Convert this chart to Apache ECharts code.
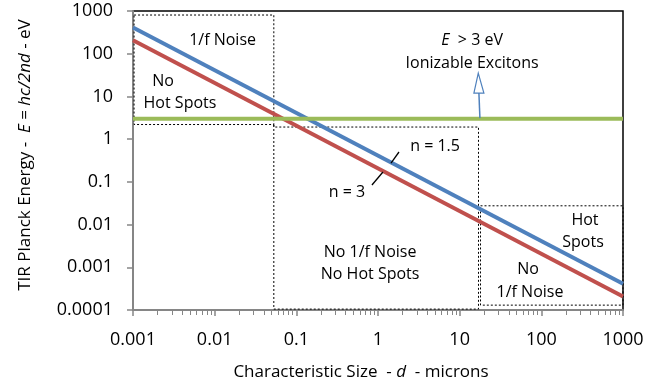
<!DOCTYPE html>
<html>
<head>
<meta charset="utf-8">
<script src="https://cdn.jsdelivr.net/npm/echarts@6/dist/echarts.min.js"></script>
<style>html,body{margin:0;background:#fff}#main{width:662px;height:387px}</style>
</head>
<body>
<div id="main"></div>
<script>
var sizes = [0.001, 1000];
var energyN15 = [413, 0.000413];
var energyN3 = [207, 0.000207];
var ionizeLevel = [3, 3];
var xRange = [0.001, 1000];
var yRange = [0.0001, 1000];

// dotted region boxes (corners in axis units)
var boxNoise = [[0.00103, 805], [0.053, 805], [0.053, 2.2], [0.00103, 2.2], [0.00103, 805]];
var boxMiddle = [[0.053, 2.2], [0.053, 1.92], [17, 1.92], [17, 0.000105], [0.053, 0.000105], [0.053, 2.2]];
var boxHot = [[18, 0.0275], [1000, 0.0275], [1000, 0.00013], [18, 0.00013], [18, 0.0275]];

var notes = [
    ['1/f Noise', 0.0125, 210],
    ['No', 0.00233, 23],
    ['Hot Spots', 0.00376, 7.0],
    ['{i|E}  > 3 eV', 14.2, 209],
    ['Ionizable Excitons', 14.2, 60.6],
    ['n = 1.5', 5.0, 0.69],
    ['n = 3', 0.417, 0.0578],
    ['No 1/f Noise', 0.8, 0.00228],
    ['No Hot Spots', 0.8, 0.000695],
    ['Hot', 342, 0.0128],
    ['Spots', 324, 0.0039],
    ['No', 68.7, 0.00091],
    ['1/f Noise', 72.6, 0.000264]
];
var leaders = [
    [[1.807, 0.5], [1.443, 0.276]],
    [[0.843, 0.0843], [1.15, 0.17]]
];
var arrowBase = [17.7, 3.1];
var arrowNeck = [17.2, 12];
var arrowTip = [16.9, 35];

var FONT = '"Open Sans", sans-serif';
var myChart = echarts.init(document.getElementById('main'));

function pairs(xs, ys) {
    return xs.map(function (x, i) { return [x, ys[i]]; });
}
function boxSeries(pts) {
    return {
        type: 'line', data: pts, showSymbol: false, silent: true, z: 1,
        lineStyle: {color: '#000', width: 1, type: [2, 2]}
    };
}
function tickText(v) {
    return String(+(+v).toPrecision(1));
}

myChart.setOption({
    animation: false,
    grid: {left: 133, right: 39, top: 11, bottom: 77, show: true, borderColor: '#000', borderWidth: 1.5},
    xAxis: {
        type: 'log', logBase: 10, min: xRange[0], max: xRange[1], splitNumber: 6,
        axisLine: {lineStyle: {color: '#868686', width: 2}},
        axisTick: {length: 6, lineStyle: {color: '#868686', width: 1.5}},
        minorTick: {show: true, splitNumber: 9, length: 5, lineStyle: {color: '#868686', width: 1}},
        splitLine: {show: false},
        axisLabel: {margin: 21, color: '#000', fontFamily: FONT, fontSize: 18, formatter: tickText}
    },
    yAxis: {
        type: 'log', logBase: 10, min: yRange[0], max: yRange[1], splitNumber: 7,
        axisLine: {lineStyle: {color: '#868686', width: 2}},
        axisTick: {length: 6, lineStyle: {color: '#868686', width: 1.5}},
        splitLine: {show: false},
        axisLabel: {margin: 20, color: '#000', fontFamily: FONT, fontSize: 18, formatter: tickText}
    },
    series: [
        boxSeries(boxNoise),
        boxSeries(boxMiddle),
        boxSeries(boxHot),
        {
            name: 'n = 3', type: 'line', data: pairs(sizes, energyN3), showSymbol: false, z: 3,
            lineStyle: {color: '#C0504D', width: 4}
        },
        {
            name: 'n = 1.5', type: 'line', data: pairs(sizes, energyN15), showSymbol: false, z: 3,
            lineStyle: {color: '#4F81BD', width: 4}
        },
        {
            name: 'E = 3 eV', type: 'line', data: pairs(xRange, ionizeLevel), showSymbol: false, z: 4,
            lineStyle: {color: '#9BBB59', width: 4}
        }
    ]
});

function px(p) {
    return myChart.convertToPixel({gridIndex: 0}, p);
}

var graphics = [];
notes.forEach(function (n) {
    var p = px([n[1], n[2]]);
    graphics.push({
        type: 'text', x: p[0], y: p[1], z: 10,
        style: {
            text: n[0], fill: '#000', font: '16px ' + FONT,
            align: 'center', verticalAlign: 'middle',
            rich: {i: {fontStyle: 'italic', fontSize: 16, fontFamily: FONT}}
        }
    });
});
leaders.forEach(function (l) {
    var a = px(l[0]), b = px(l[1]);
    graphics.push({
        type: 'line', z: 10,
        shape: {x1: a[0], y1: a[1], x2: b[0], y2: b[1]},
        style: {stroke: '#000', lineWidth: 1.3}
    });
});
var ab = px(arrowBase), an = px(arrowNeck), at = px(arrowTip);
graphics.push({
    type: 'line', z: 10,
    shape: {x1: ab[0], y1: ab[1], x2: an[0], y2: an[1]},
    style: {stroke: '#4F81BD', lineWidth: 1.5}
});
graphics.push({
    type: 'polygon', z: 10,
    shape: {points: [[at[0], at[1]], [an[0] - 5, an[1]], [an[0] + 5, an[1]]]},
    style: {fill: '#fff', stroke: '#4F81BD', lineWidth: 1.2}
});
// axis titles
graphics.push({
    type: 'text', x: 361, y: 372,
    style: {
        text: 'Characteristic Size  - {i|d}  - microns', fill: '#000', font: '17px ' + FONT,
        align: 'center', verticalAlign: 'middle',
        rich: {i: {fontStyle: 'italic', fontSize: 17, fontFamily: FONT}}
    }
});
graphics.push({
    type: 'text', x: 25, y: 155, rotation: Math.PI / 2,
    style: {
        text: 'TIR Planck Energy -  {i|E} = {i|hc/2nd} - eV', fill: '#000', font: '17px ' + FONT,
        align: 'center', verticalAlign: 'middle',
        rich: {i: {fontStyle: 'italic', fontSize: 17, fontFamily: FONT}}
    }
});
myChart.setOption({graphic: graphics});
</script>
</body>
</html>
